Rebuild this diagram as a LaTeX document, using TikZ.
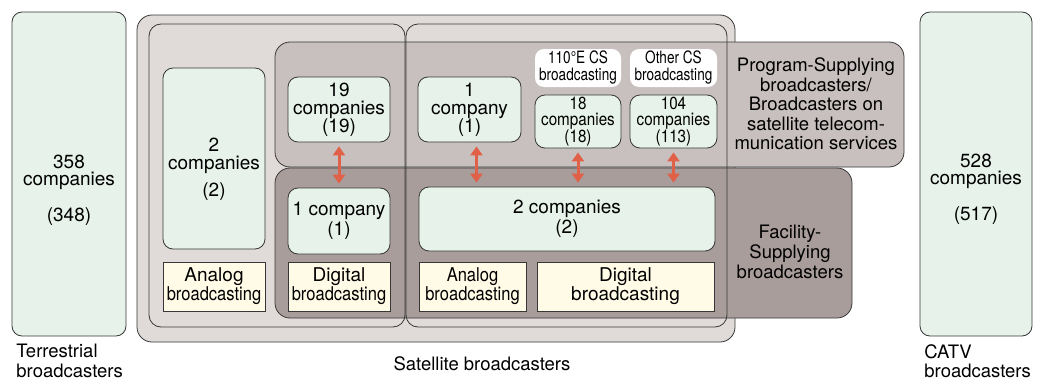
\documentclass[tikz,border=0pt]{standalone}
\usepackage{fontspec}
\setmainfont{TeX Gyre Heros}
\newfontfamily\condfont[FakeStretch=0.87]{TeX Gyre Heros}
\newfontfamily\narrowfont[FakeStretch=0.8]{TeX Gyre Heros}
\usetikzlibrary{arrows.meta}
\definecolor{linec}{RGB}{55,55,55}
\definecolor{cofill}{RGB}{230,242,234}
\definecolor{bcfill}{RGB}{255,251,230}
\definecolor{satfill}{RGB}{224,219,216}
\definecolor{progfill}{RGB}{200,192,190}
\definecolor{facfill}{RGB}{168,157,155}
\definecolor{arrc}{RGB}{224,96,72}

\begin{document}
\begin{tikzpicture}[x=1pt,y=-1pt,line width=0.8pt,
  co/.style={draw=linec,fill=cofill,rounded corners=10pt,align=center,inner sep=0pt,
    font=\fontsize{19}{18}\selectfont},
  bc/.style={draw=linec,fill=bcfill,align=center,inner sep=0pt,font=\fontsize{19}{19}\selectfont},
  tag/.style={fill=white,rounded corners=9pt,align=center,inner sep=0pt,
    font=\narrowfont\fontsize{17}{17}\selectfont},
  txt/.style={align=center,inner sep=0pt,anchor=north,font=\fontsize{19}{17}\selectfont},
  lbl/.style={align=center,inner sep=0pt,font=\fontsize{18.5}{19.5}\selectfont},
  dbl/.style={{Triangle[width=12pt,length=9pt]}-{Triangle[width=12pt,length=9pt]},
    draw=arrc,line width=3pt,shorten <=4pt,shorten >=4pt}]
\useasboundingbox (0,0) rectangle (1045,380);

% Satellite broadcasters and the two kinds of business
\draw[draw=linec,fill=satfill,rounded corners=15pt] (137,15) rectangle (735,342);
\draw[draw=linec,fill=progfill,rounded corners=15pt] (275,42) rectangle (904,167);
\draw[draw=linec,fill=facfill,rounded corners=15pt] (275,168) rectangle (852,318);
\draw[draw=linec,rounded corners=12pt] (149,24) rectangle (405,327);
\draw[draw=linec,rounded corners=12pt] (406,24) rectangle (727,327);

\node[lbl] (prog) at (816,104) {Program-Supplying\\broadcasters/\\Broadcasters on\\satellite telecom-\\munication services};
\node[lbl,font=\fontsize{18.5}{20}\selectfont] (fac) at (790,252) {Facility-\\Supplying\\broadcasters};

% Terrestrial and CATV
\node[co,minimum width=114pt,minimum height=324pt] (terr) at (69,174) {};
\node[txt] (terrtxt) at ([yshift=-143pt]terr.north) {358\\companies\\[17pt](348)};
\node[co,minimum width=112pt,minimum height=324pt] (catv) at (976,174) {};
\node[txt] (catvtxt) at ([yshift=-142pt]catv.north) {528\\companies\\[17pt](517)};

% left part (BS)
\node[co,minimum width=102pt,minimum height=181pt] (twoL) at (214,158.5) {};
\node[txt,font=\fontsize{19}{18}\selectfont] (twoLtxt) at ([yshift=-70pt]twoL.north) {2\\companies\\[9pt](2)};
\node[bc,minimum width=102pt,minimum height=49pt] (anL) at (214,286.5) {Analog\\\condfont broadcasting};
\node[co,minimum width=102pt,minimum height=65pt] (nineteen) at (339,109.5) {19\\companies\\(19)};
\node[co,minimum width=102pt,minimum height=66pt,font=\fontsize{19}{20}\selectfont]
  (oneL) at (339,221) {1 company\\(1)};
\node[bc,minimum width=102pt,minimum height=49pt] (digL) at (339,286.5) {Digital\\\condfont broadcasting};

% right part (CS)
\node[co,minimum width=103pt,minimum height=65pt] (oneR) at (469.5,109.5) {1\\company\\(1)};
\node[tag,minimum width=86pt,minimum height=38pt] (csA) at (578,68) {110°E CS\\broadcasting};
\node[tag,minimum width=87pt,minimum height=38pt] (csB) at (673.5,68) {Other CS\\broadcasting};
\node[co,minimum width=86pt,minimum height=53pt,font=\condfont\fontsize{17.5}{16}\selectfont]
  (eighteen) at (578,121.5) {18\\companies\\(18)};
\node[co,minimum width=87pt,minimum height=53pt,font=\condfont\fontsize{17.5}{16}\selectfont]
  (hundred) at (673.5,121.5) {104\\companies\\(113)};
\node[co,minimum width=296pt,minimum height=64pt,font=\fontsize{19}{20}\selectfont]
  (twoR) at (567,219) {2 companies\\(2)};
\node[bc,minimum width=107pt,minimum height=49pt,font=\condfont\fontsize{19}{19}\selectfont]
  (anR) at (472.5,286.5) {Analog\\broadcasting};
\node[bc,minimum width=177pt,minimum height=49pt] (digR) at (625.5,286.5) {Digital\\broadcasting};

% links between program and facility supply
\draw[dbl] (nineteen) -- (oneL);
\draw[dbl] ([xshift=7pt]oneR.south) -- ([xshift=7pt]oneR.south |- twoR.north);
\draw[dbl] (eighteen.south) -- (eighteen.south |- twoR.north);
\draw[dbl] (hundred.south) -- (hundred.south |- twoR.north);

% captions
\node[lbl,anchor=north west,align=left] (terrlbl) at (16,344) {Terrestrial\\broadcasters};
\node[lbl] (satlbl) at (482,364) {Satellite broadcasters};
\node[lbl,anchor=north west,align=left] (catvlbl) at (924,344) {CATV\\broadcasters};
\end{tikzpicture}
\end{document}
